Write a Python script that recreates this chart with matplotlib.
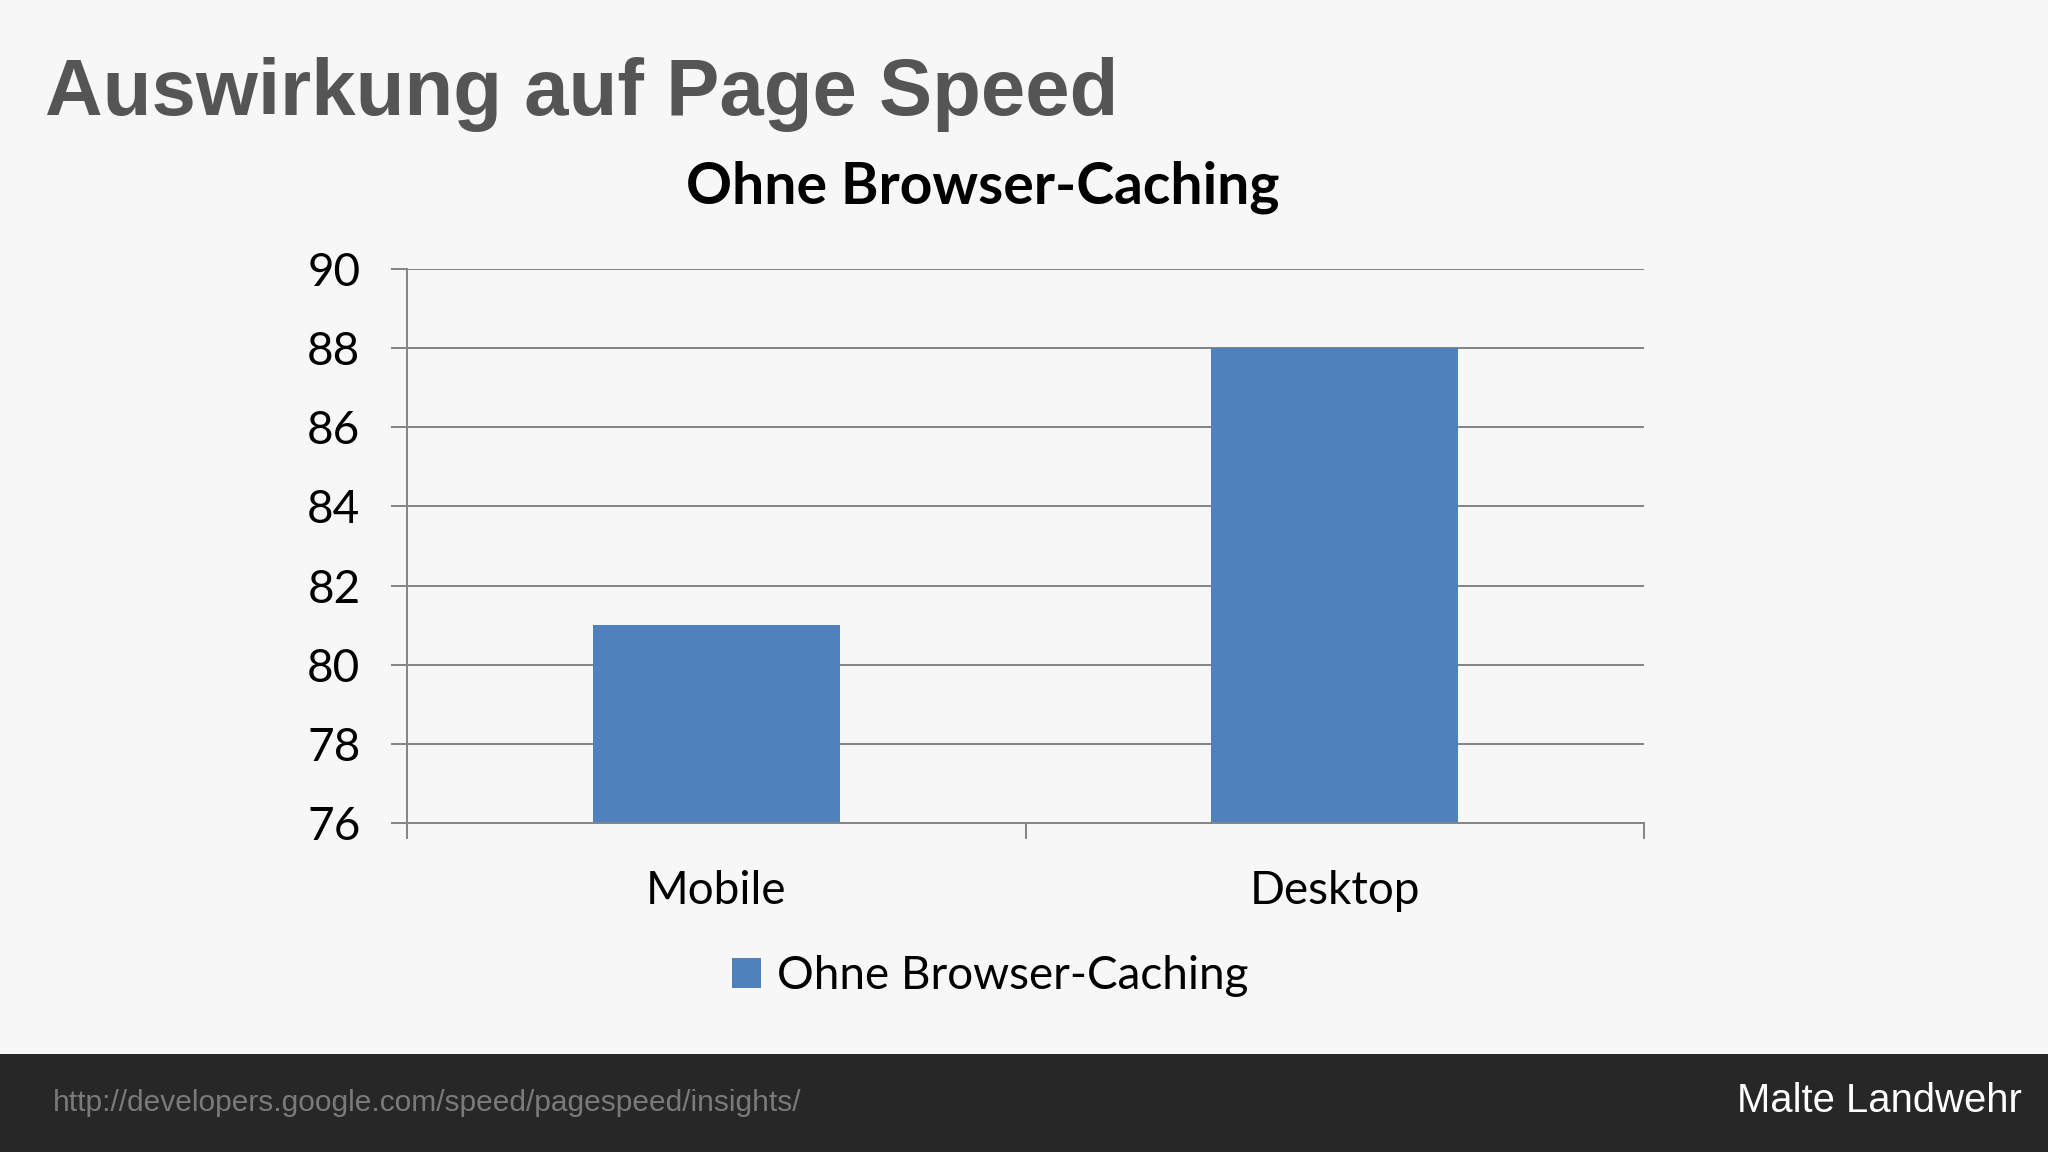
import matplotlib
matplotlib.use("Agg")
import matplotlib.pyplot as plt
from matplotlib.patches import Rectangle, Patch

# ---- data ----
categories = ["Mobile", "Desktop"]
values = [81, 88]
series_name = "Ohne Browser-Caching"
y_ticks = [76, 78, 80, 82, 84, 86, 88, 90]
slide_title = "Auswirkung auf Page Speed"
chart_title = "Ohne Browser-Caching"
source_url = "http://developers.google.com/speed/pagespeed/insights/"
author = "Malte Landwehr"

BG = "#f7f7f7"
BAR = "#4f81bd"
GRID = "#868686"
FOOT = "#272727"

W, H = 2048, 1152
fig = plt.figure(figsize=(W / 100, H / 100), dpi=100, facecolor=BG)

# footer band
fig.add_artist(Rectangle((0, 0), 1, (H - 1054) / H, transform=fig.transFigure,
                         facecolor=FOOT, edgecolor="none", zorder=0))

ax = fig.add_axes([407 / W, 1 - 823 / H, (1644 - 407) / W, (823 - 269) / H])
ax.set_facecolor(BG)
x = list(range(len(categories)))
ax.bar(x, values, width=0.4, color=BAR, zorder=3)
ax.set_xlim(-0.5, len(categories) - 0.5)
ax.set_ylim(y_ticks[0], y_ticks[-1])
ax.set_yticks(y_ticks)
ax.set_yticklabels([str(v) for v in y_ticks])
ax.set_xticks(x)
ax.set_xticklabels(categories)
ax.set_xticks([i - 0.5 for i in range(len(categories) + 1)], minor=True)
ax.tick_params(axis="x", which="major", length=0, pad=34, labelsize=33, labelcolor="black")
ax.tick_params(axis="x", which="minor", length=11.5, width=1.44, color=GRID, direction="out")
ax.tick_params(axis="y", which="major", length=11.5, width=1.44, color=GRID,
               direction="out", pad=22, labelsize=33, labelcolor="black")
for lab in ax.get_xticklabels() + ax.get_yticklabels():
    lab.set_family("Lato")
ax.grid(axis="y", color=GRID, linewidth=1.44, zorder=1)
ax.set_axisbelow(True)
for s in ["top", "right"]:
    ax.spines[s].set_visible(False)
for s in ["left", "bottom"]:
    ax.spines[s].set_color(GRID)
    ax.spines[s].set_linewidth(1.44)
    ax.spines[s].set_zorder(4)

# titles
fig.text(45 / W, 1 - 115 / H, slide_title, family="Liberation Sans", weight="bold",
         fontsize=57.4, color="#555555", ha="left", va="baseline")
fig.text(983 / W, 1 - 203 / H, chart_title, family="Lato", weight="bold",
         fontsize=41, color="black", ha="center", va="baseline")

# legend
fig.legend(handles=[Patch(facecolor=BAR, edgecolor="none", label=series_name)],
           loc="center", bbox_to_anchor=(990 / W, 1 - 976 / H), frameon=False,
           prop={"family": "Lato", "size": 33}, handlelength=0.63, handleheight=0.63,
           handletextpad=0.35, borderpad=0, borderaxespad=0)

# footer texts
fig.text(53 / W, 1 - 1111 / H, source_url, family="Liberation Sans", fontsize=21.5,
         color="#7a7a7a", ha="left", va="baseline")
fig.text(2022 / W, 1 - 1112 / H, author, family="Liberation Sans", fontsize=28.8,
         color="white", ha="right", va="baseline")

fig.savefig("out.png", dpi=100, facecolor=BG)
